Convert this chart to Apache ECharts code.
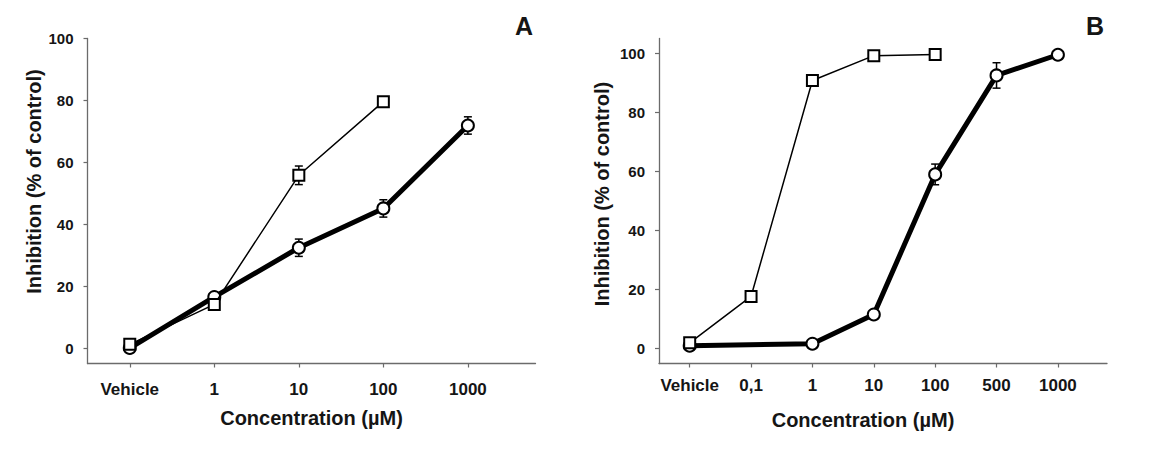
<!DOCTYPE html>
<html>
<head>
<meta charset="utf-8">
<script src="https://cdn.jsdelivr.net/npm/echarts@6/dist/echarts.min.js"></script>
<style>
html,body{margin:0;padding:0;background:#fff;}
#chart{width:1167px;height:450px;}
</style>
</head>
<body>
<div id="chart"></div>
<script>
// ---- Data ----
const catsA = ['Vehicle', '1', '10', '100', '1000'];
const squaresA = [1.2, 14.1, 55.8, 79.6];
const squaresAErr = [0.5, 1, 3, 1];
const circlesA = [0, 16.5, 32.4, 45.1, 71.9];
const circlesAErr = [0.5, 1, 2.8, 2.8, 2.8];

const catsB = ['Vehicle', '0,1', '1', '10', '100', '500', '1000'];
const squaresB = [2.0, 17.7, 90.8, 99.2, 99.6];
const squaresBErr = [0.5, 1, 1, 0.5, 0.5];
const circlesB = [1.0, null, 1.7, 11.6, 59.0, 92.5, 99.5];
const circlesBErr = [0.5, null, 0.5, 1, 3.5, 4.3, 0.5];

const yTicks = [0, 20, 40, 60, 80, 100];
const xTitle = 'Concentration (\u00b5M)';
const yTitle = 'Inhibition (% of control)';

// ---- helpers ----
function pairs(vals) {
  const out = [];
  vals.forEach((v, i) => { if (v !== null && v !== undefined) out.push([i, v]); });
  return out;
}
function errPairs(vals, errs) {
  const out = [];
  vals.forEach((v, i) => {
    if (v !== null && v !== undefined && errs[i]) out.push([i, v - errs[i], v + errs[i]]);
  });
  return out;
}
const FONT = '"Liberation Sans", Arial, sans-serif';
const TXT = '#151515';
const AX = '#6b6b6b';

function errRender(params, api) {
  const x = api.value(0);
  const lo = api.coord([x, api.value(1)]);
  const hi = api.coord([x, api.value(2)]);
  const w = 4;
  const st = { stroke: '#000', lineWidth: 1.5 };
  return {
    type: 'group',
    children: [
      { type: 'line', shape: { x1: lo[0], y1: lo[1], x2: hi[0], y2: hi[1] }, style: st },
      { type: 'line', shape: { x1: lo[0] - w, y1: lo[1], x2: lo[0] + w, y2: lo[1] }, style: st },
      { type: 'line', shape: { x1: hi[0] - w, y1: hi[1], x2: hi[0] + w, y2: hi[1] }, style: st }
    ]
  };
}

function xAxisCfg(gi, cats, max, labelMargin, gap, shift) {
  const idx = cats.map((c, i) => i);
  return {
    type: 'value', gridIndex: gi, min: -0.5, max: max,
    splitLine: { show: false },
    axisLine: { show: true, onZero: false, lineStyle: { color: AX, width: 1.3 } },
    axisTick: { show: true, customValues: idx, length: 4, inside: false, lineStyle: { color: AX, width: 1.2 } },
    axisLabel: {
      customValues: idx, margin: labelMargin,
      formatter: v => cats[Math.round(v)],
      fontFamily: FONT, fontWeight: 'bold', fontSize: 17, color: TXT
    },
    name: xTitle, nameLocation: 'middle', nameGap: gap,
    nameTextStyle: { fontFamily: FONT, fontWeight: 'bold', fontSize: 20, color: TXT,
      padding: shift > 0 ? [0, shift, 0, 0] : [0, 0, 0, -shift] }
  };
}
function yAxisCfg(gi, max, gap, shiftUp) {
  return {
    type: 'value', gridIndex: gi, min: -5, max: max,
    splitLine: { show: false },
    axisLine: { show: true, onZero: false, lineStyle: { color: AX, width: 1.3 } },
    axisTick: { show: true, customValues: yTicks, length: 4, lineStyle: { color: AX, width: 1.2 } },
    axisLabel: {
      customValues: yTicks, margin: 14,
      fontFamily: FONT, fontWeight: 'bold', fontSize: 15, color: TXT
    },
    name: yTitle, nameLocation: 'middle', nameGap: gap, nameRotate: 90,
    nameTextStyle: { fontFamily: FONT, fontWeight: 'bold', fontSize: 20, color: TXT,
      padding: [0, 0, 0, shiftUp] }
  };
}

function circleSeries(xi, yi, data) {
  return {
    type: 'line', xAxisIndex: xi, yAxisIndex: yi, data: data, z: 3,
    symbol: 'circle', symbolSize: 12, showSymbol: true,
    lineStyle: { color: '#000', width: 5 },
    itemStyle: { color: '#fff', borderColor: '#000', borderWidth: 2 },
    emphasis: { disabled: true }, animation: false
  };
}
function squareSeries(xi, yi, data) {
  return {
    type: 'line', xAxisIndex: xi, yAxisIndex: yi, data: data, z: 5,
    symbol: 'rect', symbolSize: 11, showSymbol: true,
    lineStyle: { color: '#000', width: 1.5 },
    itemStyle: { color: '#fff', borderColor: '#000', borderWidth: 2 },
    emphasis: { disabled: true }, animation: false
  };
}
function errSeries(xi, yi, data, z) {
  return {
    type: 'custom', xAxisIndex: xi, yAxisIndex: yi, data: data, z: z,
    encode: { x: 0, y: [1, 2] }, renderItem: errRender, silent: true, animation: false
  };
}

const chart = echarts.init(document.getElementById('chart'), null, { renderer: 'svg' });
chart.setOption({
  backgroundColor: '#fff',
  animation: false,
  grid: [
    { left: 87.5, top: 38.5, width: 448, height: 325 },
    { left: 659, top: 38.5, width: 448, height: 325 }
  ],
  xAxis: [
    xAxisCfg(0, catsA, 4.8, 17, 44, 0),
    xAxisCfg(1, catsB, 6.8, 13, 46, 40)
  ],
  yAxis: [
    yAxisCfg(0, 100, 44, 39),
    yAxisCfg(1, 105, 47, 14)
  ],
  graphic: [
    { type: 'text', x: 524, y: 26, style: { text: 'A', font: 'bold 25px ' + FONT, fill: TXT, align: 'center', verticalAlign: 'middle' } },
    { type: 'text', x: 1095, y: 26, style: { text: 'B', font: 'bold 25px ' + FONT, fill: TXT, align: 'center', verticalAlign: 'middle' } }
  ],
  series: [
    errSeries(0, 0, errPairs(circlesA, circlesAErr), 2),
    circleSeries(0, 0, pairs(circlesA)),
    errSeries(0, 0, errPairs(squaresA, squaresAErr), 4),
    squareSeries(0, 0, pairs(squaresA)),
    errSeries(1, 1, errPairs(circlesB, circlesBErr), 2),
    circleSeries(1, 1, pairs(circlesB)),
    errSeries(1, 1, errPairs(squaresB, squaresBErr), 4),
    squareSeries(1, 1, pairs(squaresB))
  ]
});
</script>
</body>
</html>
